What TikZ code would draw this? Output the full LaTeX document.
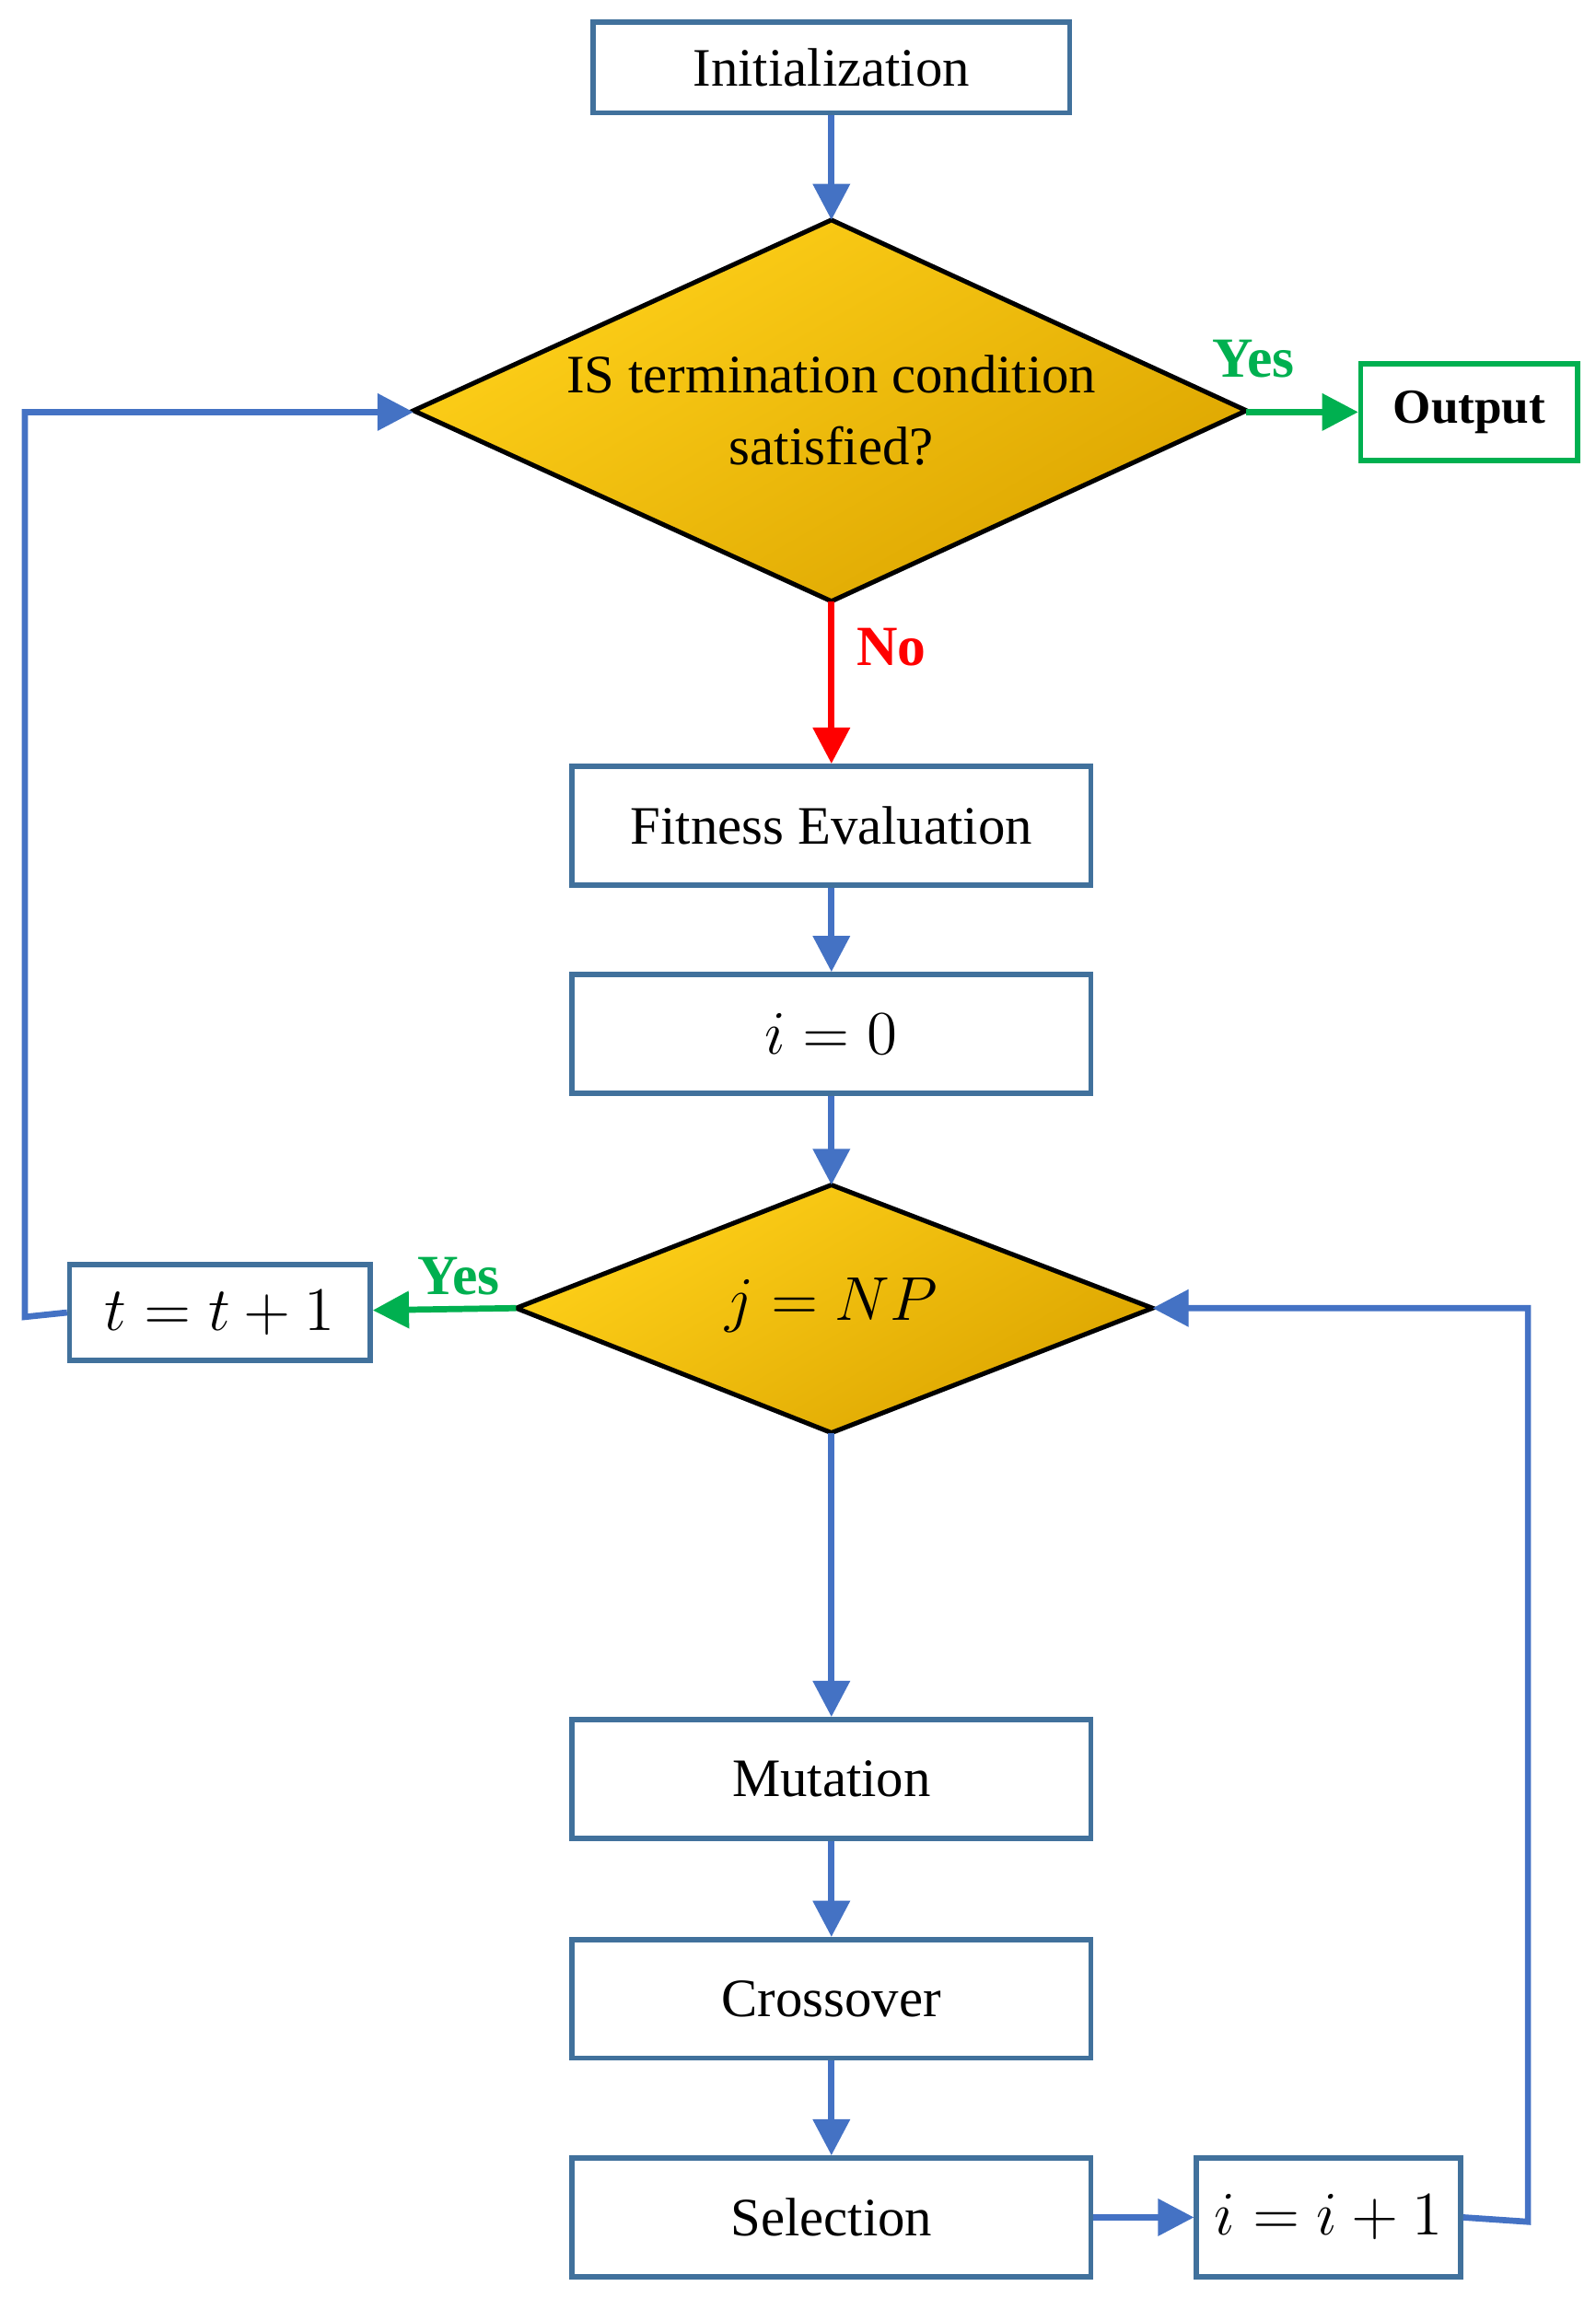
\documentclass[tikz,border=0pt]{standalone}
\usepackage{fontspec}
\setmainfont{Liberation Serif}
\usetikzlibrary{shapes.geometric,arrows.meta}
\definecolor{bx}{HTML}{41719C}
\definecolor{ar}{HTML}{4472C4}
\definecolor{gr}{HTML}{00B050}
\begin{document}
\begin{tikzpicture}[x=0.01cm,y=-0.01cm,
  box/.style={draw=bx,line width=1pt,minimum width=354\pgflinewidth,font=\fontsize{10.5}{12}\selectfont},
  dia/.style={draw=black,line width=0.9pt,top color=yellow!60!orange!90!white,bottom color={rgb,255:red,220;green,165;blue,0},shading angle=30,inner sep=0pt},
  arr/.style={draw=ar,line width=1.2pt,-{Triangle[length=7pt,width=7pt]}},
  lab/.style={font=\fontsize{11}{12}\selectfont\bfseries}]
\useasboundingbox (0,0) rectangle (1088,1567);
\tikzset{rb/.style={draw=bx,line width=1pt}}
\node[rb,minimum width=9.2cm*0.01/0.01*0+325*0.01cm,minimum height=62*0.01cm,font=\fontsize{10.5}{12}\selectfont] (init) at (567,46) {Initialization};
\path[dia] (567,150) -- (850,280) -- (567,410) -- (282,280) -- cycle;
\coordinate (d1t) at (567,150); \coordinate (d1r) at (850,281); \coordinate (d1b) at (567,410); \coordinate (d1l) at (282,281);
\node[font=\fontsize{10.5}{12}\selectfont,align=center] (q1) at (567,280) {IS termination condition\\[2pt]satisfied?};
\node[draw=gr,line width=1pt,minimum width=148*0.01cm,minimum height=66*0.01cm,font=\fontsize{9.5}{12}\selectfont\bfseries] (out) at (1002,281) {Output};
\node[rb,minimum width=354*0.01cm,minimum height=81*0.01cm,font=\fontsize{10.5}{12}\selectfont] (fit) at (567,563) {Fitness Evaluation};
\node[rb,minimum width=354*0.01cm,minimum height=81*0.01cm,font=\fontsize{13}{14}\selectfont] (i0) at (567,705) {$i=0$};
\path[dia] (567,808) -- (786,892) -- (567,977) -- (352,892) -- cycle;
\coordinate (d2t) at (567,808); \coordinate (d2r) at (786,892); \coordinate (d2b) at (567,977); \coordinate (d2l) at (352,892);
\node[font=\fontsize{13}{14}\selectfont] (q2) at (567,890) {$j=NP$};
\node[rb,minimum width=205*0.01cm,minimum height=65*0.01cm,font=\fontsize{13}{14}\selectfont] (t) at (150,895) {$t=t+1$};
\node[rb,minimum width=354*0.01cm,minimum height=81*0.01cm,font=\fontsize{10.5}{12}\selectfont] (mut) at (567,1213) {Mutation};
\node[rb,minimum width=354*0.01cm,minimum height=81*0.01cm,font=\fontsize{10.5}{12}\selectfont] (cro) at (567,1363) {Crossover};
\node[rb,minimum width=354*0.01cm,minimum height=81*0.01cm,font=\fontsize{10.5}{12}\selectfont] (sel) at (567,1512) {Selection};
\node[rb,minimum width=180*0.01cm,minimum height=81*0.01cm,font=\fontsize{13}{14}\selectfont] (ii) at (906,1512) {$i=i+1$};
\draw[arr] (init) -- (d1t);
\draw[arr,draw=gr] (d1r) -- (out);
\node[lab,text=gr] at (855,245) {Yes};
\draw[arr,draw=red] (d1b) -- (fit);
\node[lab,text=red] at (608,441) {No};
\draw[arr] (fit) -- (i0);
\draw[arr] (i0) -- (d2t);
\draw[arr,draw=gr] (d2l) -- (t);
\node[lab,text=gr] at (313,870) {Yes};
\draw[arr] (t.west) -- (17,898) -- (17,281) -- (d1l);
\draw[arr] (d2b) -- (mut);
\draw[arr] (mut) -- (cro);
\draw[arr] (cro) -- (sel);
\draw[arr] (sel) -- (ii);
\draw[arr] (ii.east) -- (1042,1515) -- (1042,892) -- (d2r);
\end{tikzpicture}
\end{document}
